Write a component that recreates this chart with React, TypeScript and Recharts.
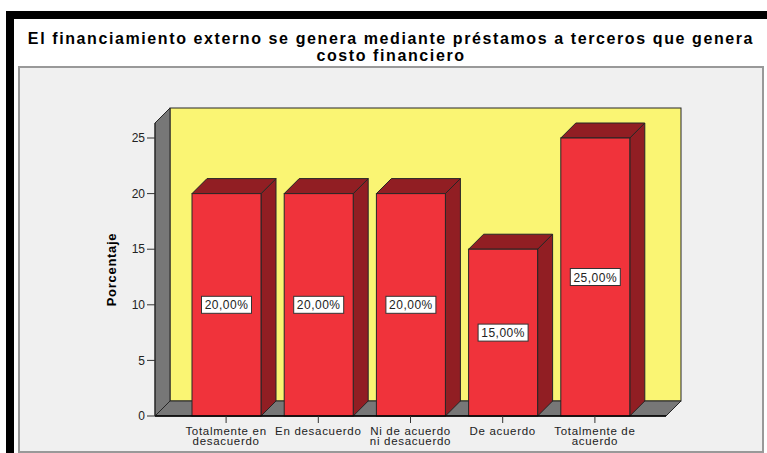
import { BarChart, Bar, XAxis, YAxis, ReferenceArea, LabelList } from "recharts";

const categories = [
  "Totalmente en desacuerdo",
  "En desacuerdo",
  "Ni de acuerdo ni desacuerdo",
  "De acuerdo",
  "Totalmente de acuerdo",
];
const tickLabels = [
  ["Totalmente en", "desacuerdo"],
  ["En desacuerdo"],
  ["Ni de acuerdo", "ni desacuerdo"],
  ["De acuerdo"],
  ["Totalmente de", "acuerdo"],
];
const percentages = [20, 20, 20, 15, 25];
const yTicks = [0, 5, 10, 15, 20, 25];
const Y_MAX = 26.35;

const data = categories.map((name, i) => ({ name, value: percentages[i] }));

const FONT = "'Liberation Sans', Arial, sans-serif";
const DEPTH = 15;
const PAD = 25; // x axis padding on each side of the category bands
const OUTLINE = "#262626";

// 3D box: yellow back wall, gray left wall and floor (reference area covers the bands only, so widen by the padding)
const Box3D = (props: any) => {
  const x = props.x - PAD;
  const w = props.width + PAD * 2;
  const { y, height: h } = props;
  const d = DEPTH;
  return (
    <g>
      <rect x={x + d} y={y - d} width={w} height={h} fill="#FAF573" stroke={OUTLINE} strokeWidth={1} />
      <polygon
        points={`${x},${y} ${x + d},${y - d} ${x + d},${y + h - d} ${x},${y + h}`}
        fill="#777777"
        stroke={OUTLINE}
        strokeWidth={1}
      />
      <polygon
        points={`${x},${y + h} ${x + d},${y + h - d} ${x + w + d},${y + h - d} ${x + w},${y + h}`}
        fill="#777777"
        stroke={OUTLINE}
        strokeWidth={1}
      />
    </g>
  );
};

const Bar3D = (props: any) => {
  const { x, y, width: w, height: h } = props;
  const d = DEPTH;
  return (
    <g>
      <polygon
        points={`${x + w},${y} ${x + w + d},${y - d} ${x + w + d},${y + h - d} ${x + w},${y + h}`}
        fill="#911E23"
        stroke={OUTLINE}
        strokeWidth={1}
      />
      <polygon
        points={`${x},${y} ${x + d},${y - d} ${x + w + d},${y - d} ${x + w},${y}`}
        fill="#911E23"
        stroke={OUTLINE}
        strokeWidth={1}
      />
      <rect x={x} y={y} width={w} height={h} fill="#F0333B" stroke={OUTLINE} strokeWidth={1} />
    </g>
  );
};

const ValueLabel = (props: any) => {
  const { x, y, width, height, value } = props;
  const cx = x + width / 2;
  const cy = y + height / 2;
  const text = `${Number(value).toFixed(2).replace(".", ",")}%`;
  return (
    <g>
      <rect x={cx - 25} y={cy - 8.5} width={50} height={17} fill="#ffffff" stroke="#333" strokeWidth={1} />
      <text
        x={cx}
        y={cy + 4.5}
        textAnchor="middle"
        fontSize={12}
        letterSpacing={0.5}
        fontFamily={FONT}
        fill="#222"
      >
        {text}
      </text>
    </g>
  );
};

const CategoryTick = (props: any) => {
  const { x, y, payload } = props;
  const idx = categories.indexOf(payload.value);
  const lines = tickLabels[idx] || [payload.value];
  return (
    <text textAnchor="middle" fontSize={11.5} letterSpacing={0.7} fontFamily={FONT} fill="#222">
      {lines.map((line, i) => (
        <tspan key={i} x={x} y={y + 9.5 + i * 10.5}>
          {line}
        </tspan>
      ))}
    </text>
  );
};

export default function App() {
  return (
    <div
      style={{
        position: "absolute",
        left: 0,
        top: 0,
        width: 767,
        height: 453,
        background: "#ffffff",
        overflow: "hidden",
        fontFamily: FONT,
      }}
    >
      <div style={{ position: "absolute", left: 6, top: 11, width: 761, height: 8, background: "#000" }} />
      <div style={{ position: "absolute", left: 6, top: 11, width: 8, height: 442, background: "#000" }} />
      <div
        style={{
          position: "absolute",
          left: 18,
          top: 66,
          width: 746,
          height: 387,
          background: "#F0F0F0",
          border: "2px solid #999999",
          boxSizing: "border-box",
        }}
      />
      <div
        style={{
          position: "absolute",
          left: 18,
          top: 31,
          width: 746,
          textAlign: "center",
          fontSize: 16,
          letterSpacing: 1.6,
          lineHeight: "16.5px",
          fontWeight: "bold",
          color: "#000",
        }}
      >
        El financiamiento externo se genera mediante préstamos a terceros que genera
        <br />
        costo financiero
      </div>
      <div style={{ position: "absolute", left: 0, top: 0 }}>
        <BarChart
          width={767}
          height={453}
          data={data}
          margin={{ top: 123, right: 101, left: 105, bottom: 7 }}
        >
          <ReferenceArea
            y1={0}
            y2={Y_MAX}
            ifOverflow="visible"
            shape={Box3D}
            zIndex={-100}
          />
          <XAxis
            dataKey="name"
            height={30}
            padding={{ left: PAD, right: PAD }}
            interval={0}
            tickSize={7}
            tickMargin={2}
            axisLine={{ stroke: "#000", strokeWidth: 1.5 }}
            tickLine={{ stroke: "#333" }}
            tick={<CategoryTick />}
          />
          <YAxis
            width={50}
            domain={[0, Y_MAX]}
            ticks={yTicks}
            tickSize={8}
            tickMargin={2}
            axisLine={{ stroke: OUTLINE }}
            tickLine={{ stroke: "#333" }}
            tick={{ fontSize: 12, fontFamily: FONT, fill: "#222" }}
            label={{
              content: (p: any) => {
                const vb = p.viewBox;
                const cx = vb.x + 11;
                const cy = vb.y + vb.height / 2;
                return (
                  <text
                    x={cx}
                    y={cy}
                    transform={`rotate(-90 ${cx} ${cy})`}
                    textAnchor="middle"
                    fontSize={13}
                    letterSpacing={0.7}
                    fontWeight="bold"
                    fontFamily={FONT}
                    fill="#000"
                  >
                    Porcentaje
                  </text>
                );
              },
            }}
          />
          <Bar dataKey="value" barSize={69} shape={Bar3D} isAnimationActive={false}>
            <LabelList dataKey="value" content={ValueLabel} />
          </Bar>
        </BarChart>
      </div>
    </div>
  );
}
